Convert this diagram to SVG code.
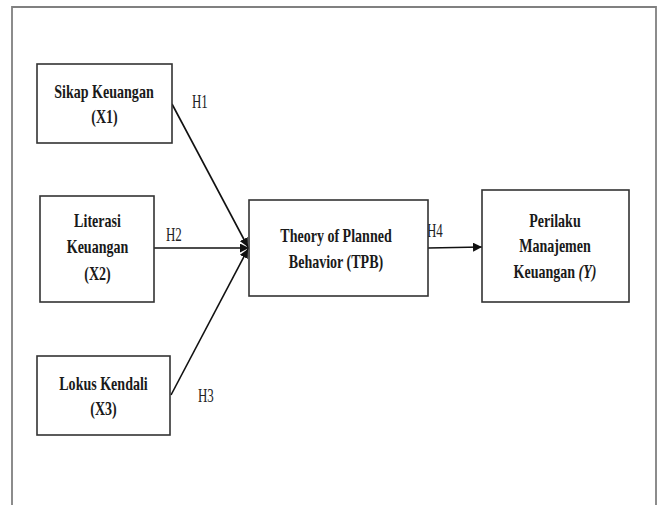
<svg xmlns="http://www.w3.org/2000/svg" width="662" height="505" viewBox="0 0 662 505">
<defs>
<style>
.frame{fill:none;stroke:#808080;stroke-width:1.8}
.box{fill:#ffffff;stroke:#333333;stroke-width:1.6}
.t{font-family:"Liberation Serif","Times New Roman",serif;font-size:18px;font-weight:bold;fill:#1a1a1a;text-anchor:middle}
.h{font-family:"Liberation Serif","Times New Roman",serif;font-size:18.5px;fill:#222222;text-anchor:start}
.c{fill:none;stroke:#111111;stroke-width:1.6}
</style>
<marker id="ah" viewBox="0 0 10 10" refX="10" refY="5" markerWidth="9" markerHeight="9" markerUnits="userSpaceOnUse" orient="auto">
<path d="M0,0 L10,5 L0,10 z" fill="#111111"/>
</marker>
</defs>
<rect x="0" y="0" width="662" height="505" fill="#ffffff"/>
<path class="frame" d="M12,505 V7 H656 V505"/>

<g id="connectors">
<line class="c" x1="172" y1="104" x2="248" y2="247" marker-end="url(#ah)"/>
<line class="c" x1="154" y1="248" x2="249" y2="248" marker-end="url(#ah)"/>
<line class="c" x1="171" y1="395" x2="248" y2="249" marker-end="url(#ah)"/>
<line class="c" x1="428" y1="248" x2="482" y2="247" marker-end="url(#ah)"/>
<text class="h" transform="translate(192,108) scale(0.7,1)">H1</text>
<text class="h" transform="translate(166,241) scale(0.7,1)">H2</text>
<text class="h" transform="translate(198,402) scale(0.7,1)">H3</text>
<text class="h" transform="translate(427,237) scale(0.7,1)">H4</text>
</g>

<g id="node-x1">
<rect class="box" x="37" y="64" width="135" height="79"/>
<text class="t" transform="translate(104,98) scale(0.78,1)">Sikap Keuangan</text>
<text class="t" transform="translate(104.5,123) scale(0.78,1)">(X1)</text>
</g>

<g id="node-x2">
<rect class="box" x="40" y="196" width="114" height="106"/>
<text class="t" transform="translate(97.5,227) scale(0.78,1)">Literasi</text>
<text class="t" transform="translate(97.5,253) scale(0.78,1)">Keuangan</text>
<text class="t" transform="translate(97.5,280) scale(0.78,1)">(X2)</text>
</g>

<g id="node-x3">
<rect class="box" x="37" y="356" width="133" height="79"/>
<text class="t" transform="translate(103.5,390) scale(0.78,1)">Lokus Kendali</text>
<text class="t" transform="translate(103.5,415) scale(0.78,1)">(X3)</text>
</g>

<g id="node-tpb">
<rect class="box" x="249" y="200" width="179" height="96"/>
<text class="t" transform="translate(336,242) scale(0.78,1)">Theory of Planned</text>
<text class="t" transform="translate(336,268) scale(0.78,1)">Behavior (TPB)</text>
</g>

<g id="node-y">
<rect class="box" x="482" y="190" width="147" height="112"/>
<text class="t" transform="translate(555,227) scale(0.78,1)">Perilaku</text>
<text class="t" transform="translate(555,252) scale(0.78,1)">Manajemen</text>
<text class="t" transform="translate(555,278) scale(0.78,1)">Keuangan <tspan font-style="italic">(Y)</tspan></text>
</g>
</svg>
